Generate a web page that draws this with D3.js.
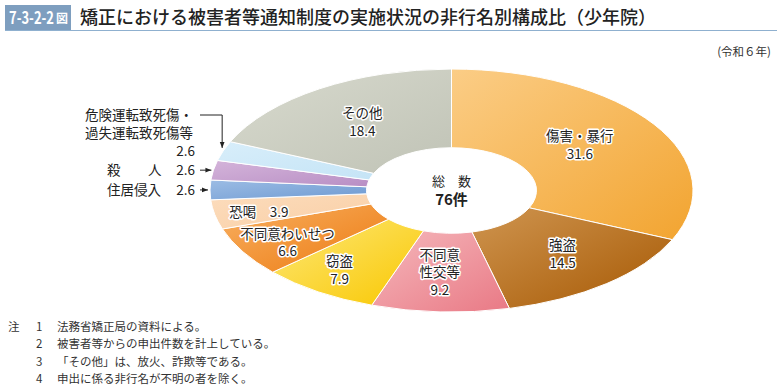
<!DOCTYPE html>
<html><head><meta charset="utf-8">
<script src="https://cdn.jsdelivr.net/npm/d3@7"></script>
<style>
body{margin:0;background:#fff;}
svg{display:block;font-family:"Noto Sans CJK JP","Noto Sans",sans-serif;}
</style></head>
<body><svg id="c" width="779" height="391"></svg>
<script>
const categories = ["傷害・暴行","強盗","不同意性交等","窃盗","不同意わいせつ","恐喝","住居侵入","殺人","危険運転致死傷・過失運転致死傷等","その他"];
const values = [31.6,14.5,9.2,7.9,6.6,3.9,2.6,2.6,2.6,18.4];
const labelLines = [["傷害・暴行","31.6"],["強盗","14.5"],["不同意","性交等","9.2"],["窃盗","7.9"],["不同意わいせつ","6.6"],["恐喝　3.9"],null,null,null,["その他","18.4"]];
const colorsLight = ["#fbcd86","#cf9550","#f5b8bc","#fde878","#f8b062","#fcdcbc","#9cbce4","#d4b4da","#d8eefa","#d8dace"];
const colorsDark  = ["#f2a430","#a65802","#e97985","#f9c700","#ec7a10","#f9cfa6","#6e9ad2","#b88ec4","#c5e4f6","#c0c3b6"];
const totalLabel = ["総　数","76件"];
const notes = ["法務省矯正局の資料による。","被害者等からの申出件数を計上している。","「その他」は、放火、詐欺等である。","申出に係る非行名が不明の者を除く。"];

const svg = d3.select("#c");
const defs = svg.append("defs");

// Title
svg.append("rect").attr("x",5).attr("y",5).attr("width",66).attr("height",25).attr("fill","#7e9ebf");
svg.append("text").attr("x",9).attr("y",24).attr("fill","#fff").attr("font-size",17).attr("font-weight","bold")
  .attr("textLength",45).attr("lengthAdjust","spacingAndGlyphs").text("7-3-2-2");
svg.append("text").attr("x",56).attr("y",23).attr("fill","#fff").attr("font-size",12).attr("font-weight","bold").text("図");
svg.append("line").attr("x1",5).attr("x2",777).attr("y1",30.5).attr("y2",30.5).attr("stroke","#8fb0cf").attr("stroke-width",1);
svg.append("text").attr("x",80).attr("y",24).attr("fill","#222").attr("font-size",18).attr("font-weight","500").text("矯正における被害者等通知制度の実施状況の非行名別構成比（少年院）");
svg.append("text").attr("x",771).attr("y",56).attr("text-anchor","end").attr("fill","#333").attr("font-size",11.5).text("(令和６年)");

// Pie
const cx = 451.5, cy = 190.5, R = 241.5, r0 = 85, sy = 0.503;
const pie = d3.pie().sort(null).value(d=>d)(values);
const arc = d3.arc().innerRadius(r0).outerRadius(R);
values.forEach((v,i)=>{
  const g = defs.append("linearGradient").attr("id","g"+i).attr("x1","0").attr("y1","0").attr("x2","1").attr("y2","1");
  g.append("stop").attr("offset","0").attr("stop-color",colorsLight[i]);
  g.append("stop").attr("offset","1").attr("stop-color",colorsDark[i]);
});
const pg = svg.append("g").attr("transform",`translate(${cx},${cy}) scale(1,${sy})`);
pg.selectAll("path").data(pie).join("path")
  .attr("d",arc)
  .attr("fill",(d,i)=>`url(#g${i})`)
  .attr("stroke","#fff").attr("stroke-width",1)
  .attr("vector-effect","non-scaling-stroke");

// center
svg.append("text").attr("x",cx).attr("y",186).attr("text-anchor","middle").attr("font-size",13).attr("fill","#222").text(totalLabel[0]);
svg.append("text").attr("x",cx).attr("y",205).attr("text-anchor","middle").attr("font-size",15).attr("font-weight","bold").attr("fill","#222").text(totalLabel[1]);

// inside labels
const labelR = [165,165,163,190,205,215,0,0,0,163];
const labelDx = [-10,5,-4,-7,13,18,0,0,0,0];
const lineH = 17.5;
pie.forEach((d,i)=>{
  const lines = labelLines[i];
  if(!lines) return;
  const a = (d.startAngle+d.endAngle)/2;
  const x = cx + labelR[i]*Math.sin(a) + labelDx[i];
  const y = cy - labelR[i]*Math.cos(a)*sy;
  const t = svg.append("text").attr("text-anchor","middle").attr("font-size",13.5).attr("fill","#222")
    .attr("stroke","#fff").attr("stroke-width",3).attr("paint-order","stroke").attr("stroke-linejoin","round");
  const y0 = y - (lines.length-1)*lineH/2 + 5;
  lines.forEach((s,k)=>{
    t.append("tspan").attr("x",x).attr("y",y0+k*lineH).text(s);
  });
});

// outside labels
const ext = svg.append("g").attr("font-size",13.5).attr("fill","#222");
const outA = (p)=>{ const a=(p.startAngle+p.endAngle)/2; return [cx+R*Math.sin(a), cy-R*Math.cos(a)*sy]; };
let p = outA(pie[6]);
ext.append("text").attr("x",107).attr("y",p[1]+5).text("住居侵入");
ext.append("text").attr("x",195).attr("y",p[1]+5).attr("text-anchor","end").text(values[6].toFixed(1));
p = outA(pie[7]);
ext.append("text").attr("x",107).attr("y",p[1]+5).text("殺");
ext.append("text").attr("x",148).attr("y",p[1]+5).text("人");
ext.append("text").attr("x",195).attr("y",p[1]+5).attr("text-anchor","end").text(values[7].toFixed(1));
ext.append("text").attr("x",85).attr("y",120).text("危険運転致死傷・");
ext.append("text").attr("x",85).attr("y",138).text("過失運転致死傷等");
ext.append("text").attr("x",195).attr("y",156).attr("text-anchor","end").text(values[8].toFixed(1));

defs.append("marker").attr("id","arr").attr("viewBox","0 0 10 10").attr("refX",10).attr("refY",5)
  .attr("markerWidth",6).attr("markerHeight",6).attr("orient","auto-start-reverse")
  .append("path").attr("d","M0,1 L10,5 L0,9 z").attr("fill","#222");
[6,7].forEach(i=>{
  const q = outA(pie[i]);
  svg.append("line").attr("x1",200).attr("x2",q[0]-2).attr("y1",q[1]).attr("y2",q[1])
    .attr("stroke","#222").attr("stroke-width",1).attr("marker-end","url(#arr)");
});
{
  const q = outA(pie[8]);
  svg.append("path").attr("d",`M200,115 H${q[0]-1} V${q[1]-3}`).attr("fill","none")
    .attr("stroke","#222").attr("stroke-width",1).attr("marker-end","url(#arr)");
}

// notes
const ng = svg.append("g").attr("font-size",11.5).attr("fill","#333");
ng.append("text").attr("x",8).attr("y",331).text("注");
notes.forEach((s,i)=>{
  ng.append("text").attr("x",36).attr("y",331+i*17.3).text(String(i+1));
  ng.append("text").attr("x",57).attr("y",331+i*17.3).text(s);
});
</script></body></html>
